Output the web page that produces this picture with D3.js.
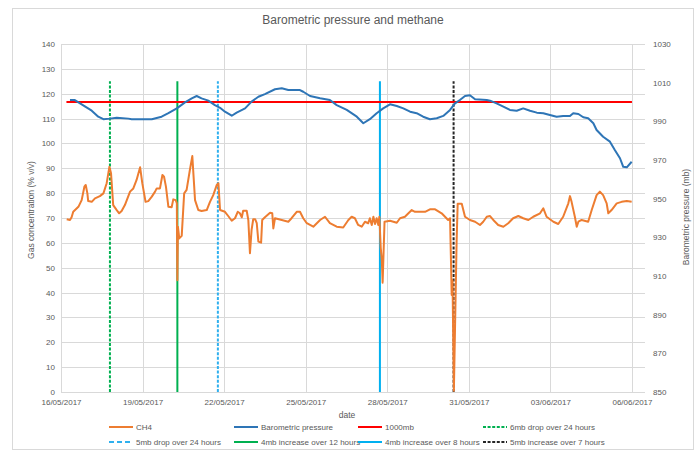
<!DOCTYPE html>
<html><head><meta charset="utf-8">
<script src="https://cdn.jsdelivr.net/npm/d3@7"></script>
<style>
body{margin:0;background:#fff;}
text{font-family:"Liberation Sans",Arial,sans-serif;fill:#595959;}
</style></head>
<body><svg id="chart" width="699" height="450"></svg>
<script>
// ---- data (days since 16/05/2017 00:00) ----
const pressureDay = [0.33,0.51,0.76,1.13,1.37,1.56,1.80,2.05,2.48,2.60,3.34,3.70,3.95,4.26,4.56,4.81,4.99,5.17,5.42,5.66,5.85,6.03,6.28,6.46,6.77,7.01,7.26,7.50,7.87,8.12,8.36,8.79,8.91,9.16,9.53,9.89,10.14,10.51,10.88,11.12,11.36,11.61,11.85,12.10,12.35,12.59,12.84,13.08,13.32,13.57,13.82,14.06,14.31,14.49,14.67,14.86,15.04,15.23,15.66,15.78,16.02,16.27,16.51,16.76,17.00,17.25,17.50,17.74,17.98,18.23,18.47,18.72,18.84,19.03,19.21,19.39,19.58,19.70,19.94,20.19,20.37,20.56,20.68,20.81,20.99];
const pressureMb = [1001.0,1001.0,998.8,995.5,992.4,991.1,991.4,991.9,991.4,991.1,991.1,992.4,994.2,996.7,999.8,1001.9,1003.1,1001.9,1000.7,998.4,997.0,995.0,992.9,994.5,996.7,1000.2,1002.7,1004.1,1006.6,1007.1,1006.2,1006.2,1005.3,1003.1,1001.9,1001.0,998.4,995.9,992.4,989.0,991.1,994.2,996.7,998.8,997.9,996.7,995.0,994.2,992.4,991.1,991.6,992.8,995.9,999.3,1001.0,1003.1,1003.5,1001.4,1001.0,1000.7,999.3,997.6,995.9,995.5,996.7,995.5,994.5,994.2,993.3,992.4,992.8,992.8,994.2,993.8,992.1,991.6,989.0,985.5,982.0,979.5,975.2,970.9,966.5,966.2,969.1];

const ch4Day = [0.21,0.33,0.39,0.45,0.64,0.76,0.86,0.91,0.97,1.00,1.13,1.25,1.43,1.56,1.68,1.78,1.84,1.92,2.05,2.14,2.23,2.35,2.54,2.66,2.78,2.91,2.99,3.11,3.21,3.34,3.46,3.52,3.64,3.73,3.79,3.86,3.95,4.07,4.13,4.22,4.26,4.28,4.30,4.35,4.44,4.53,4.62,4.74,4.83,4.93,5.05,5.17,5.36,5.48,5.60,5.73,5.79,5.85,6.03,6.15,6.28,6.40,6.50,6.58,6.65,6.70,6.83,6.89,6.95,7.01,7.07,7.14,7.20,7.26,7.36,7.40,7.50,7.69,7.77,7.81,7.87,8.12,8.36,8.48,8.67,8.79,8.91,9.04,9.28,9.53,9.71,9.89,10.14,10.38,10.57,10.69,10.81,10.93,11.06,11.18,11.30,11.36,11.43,11.49,11.55,11.61,11.67,11.71,11.76,11.80,11.83,11.90,12.10,12.35,12.47,12.65,12.90,13.02,13.39,13.57,13.76,14.00,14.24,14.31,14.37,14.40,14.45,14.55,14.59,14.74,14.86,15.04,15.23,15.41,15.53,15.66,15.78,15.90,16.08,16.27,16.45,16.63,16.82,17.00,17.19,17.37,17.62,17.74,17.86,18.11,18.29,18.47,18.66,18.72,18.78,18.90,18.97,19.03,19.15,19.39,19.52,19.70,19.82,19.94,20.07,20.13,20.25,20.44,20.62,20.81,20.99];
const ch4Pct = [69.5,69.2,70.3,72.5,74.5,77.2,82.6,83.3,79.9,76.8,76.5,77.9,78.8,79.9,84.0,90.6,88.0,75.2,73.2,71.9,72.8,75.2,80.6,81.9,85.3,90.4,84.0,76.5,76.8,78.6,80.6,81.9,81.9,87.3,86.6,82.6,74.5,74.3,77.5,77.2,76.0,45,66.5,61.8,62.8,79.9,81.3,89.3,94.9,77.2,73.2,72.8,73.2,76.5,79.2,83.3,84.0,73.2,72.5,70.8,68.9,69.9,72.5,71.9,70.3,72.9,72.9,69.2,55.8,65.2,69.5,69.5,67.9,60.5,60.1,69.2,70.3,72.1,71.9,65.8,69.9,69.2,68.5,69.9,72.5,72.5,69.9,67.9,66.5,69.2,70.5,67.9,66.5,66.2,69.2,70.5,69.9,67.2,66.5,68.5,67.9,69.9,67.2,70.5,67.6,69.9,67.2,70.5,58,53,44,68.5,68.9,68.1,69.9,70.5,73.2,72.5,72.5,73.5,73.5,71.9,69.2,69.9,39,45,0.5,60,75.7,75.7,70.5,69.2,68.5,67.2,68.5,70.5,70.8,69.2,67.2,66.5,67.9,69.9,70.8,69.9,69.2,70.5,71.9,73.9,70.5,68.5,67.6,70.5,75.9,78.8,76.5,70.5,66.5,68.5,69.2,68.5,73.2,79.2,80.6,79.2,75.9,71.9,73.2,75.9,76.5,76.8,76.5];

const refLineDay = [0.2, 21.0];
const refLineMb = [1000, 1000];

const eventNames = ["6mb drop over 24 hours","5mb drop over 24 hours","4mb increase over 12 hours","4mb increase over 8 hours","5mb increase over 7 hours"];
const eventDay = [1.80, 5.77, 4.28, 11.73, 14.44];
const eventTop = 125;

const leftTicks = d3.range(0, 141, 10);
const rightTicks = d3.range(850, 1031, 20);
const dateTickDays = [0,3,6,9,12,15,18,21];

// ---- setup ----
const base = new Date(2017,4,16);
const toDate = d => new Date(base.getTime() + d*86400000);
const svg = d3.select("#chart");
const L = 61, R = 645, T = 44, B = 392;
const x = d3.scaleTime().domain([toDate(0), toDate(21.48)]).range([L, R]);
const yL = d3.scaleLinear().domain([0,140]).range([B,T]);
const yR = d3.scaleLinear().domain([850,1030]).range([B,T]);
const fmt = d3.timeFormat("%d/%m/%Y");

// border
svg.append("rect").attr("x",12.5).attr("y",8.5).attr("width",681).attr("height",441)
  .attr("fill","#fff").attr("stroke","#d9d9d9");

// title
svg.append("text").attr("x",353).attr("y",24).attr("text-anchor","middle")
  .style("font-size","12px").text("Barometric pressure and methane");

// gridlines
const grid = svg.append("g");
grid.selectAll(".hg").data(leftTicks).join("line")
  .attr("x1",L).attr("x2",R).attr("y1",d=>Math.round(yL(d))+0.5).attr("y2",d=>Math.round(yL(d))+0.5)
  .attr("stroke","#d9d9d9").attr("stroke-width",1);
grid.selectAll(".vg").data(dateTickDays).join("line")
  .attr("x1",d=>Math.round(x(toDate(d)))+0.5).attr("x2",d=>Math.round(x(toDate(d)))+0.5)
  .attr("y1",T).attr("y2",B).attr("stroke","#d9d9d9").attr("stroke-width",1);

// axes
const axL = svg.append("g").attr("transform",`translate(${L-6},0)`)
  .call(d3.axisLeft(yL).tickValues(leftTicks).tickSize(0).tickPadding(0));
const axR = svg.append("g").attr("transform",`translate(${R+8},0)`)
  .call(d3.axisRight(yR).tickValues(rightTicks).tickFormat(d3.format("d")).tickSize(0).tickPadding(0));
const axB = svg.append("g").attr("transform",`translate(0,${B+6})`)
  .call(d3.axisBottom(x).tickValues(dateTickDays.map(toDate)).tickFormat(fmt).tickSize(0).tickPadding(0));
[axL,axR,axB].forEach(a=>{a.select(".domain").remove();
  a.selectAll("text").style("font-size","8px").style("font-family","'Liberation Sans',Arial,sans-serif").attr("fill","#595959");});
axB.selectAll("text").attr("dy","0.9em");

// axis titles
svg.append("text").attr("transform","translate(34,210) rotate(-90)").attr("text-anchor","middle")
  .style("font-size","8.5px").text("Gas concentration (% v/v)");
svg.append("text").attr("transform","translate(689,217) rotate(-90)").attr("text-anchor","middle")
  .style("font-size","8.5px").text("Barometric pressure (mb)");
svg.append("text").attr("x",347).attr("y",418).attr("text-anchor","middle")
  .style("font-size","8.5px").text("date");

// styles
const styles = {
  "CH4": {c:"#ed7d31", dash:null},
  "Barometric pressure": {c:"#2e75b6", dash:null},
  "1000mb": {c:"#ff0000", dash:null},
  "6mb drop over 24 hours": {c:"#00b050", dash:"3,1.6"},
  "5mb drop over 24 hours": {c:"#2fb0ee", dash:"3,1.6"},
  "4mb increase over 12 hours": {c:"#00b050", dash:null},
  "4mb increase over 8 hours": {c:"#00b0f0", dash:null},
  "5mb increase over 7 hours": {c:"#262626", dash:"3,1.6"}
};

// event lines
eventNames.forEach((n,i)=>{
  const d = [[eventDay[i],0],[eventDay[i],eventTop]];
  svg.append("path").datum(d)
    .attr("d", d3.line().x(p=>x(toDate(p[0]))).y(p=>yL(p[1])))
    .attr("stroke", styles[n].c).attr("stroke-width",2).attr("fill","none")
    .attr("stroke-dasharray", styles[n].dash);
});

// 1000mb
svg.append("path").datum(refLineDay.map((d,i)=>[d,refLineMb[i]]))
  .attr("d", d3.line().x(p=>x(toDate(p[0]))).y(p=>yR(p[1])))
  .attr("stroke","#ff0000").attr("stroke-width",2).attr("fill","none");

// pressure
svg.append("path").datum(pressureDay.map((d,i)=>[d,pressureMb[i]]))
  .attr("d", d3.line().x(p=>x(toDate(p[0]))).y(p=>yR(p[1])))
  .attr("stroke","#2e75b6").attr("stroke-width",2).attr("fill","none").attr("stroke-linejoin","round");

// CH4
svg.append("path").datum(ch4Day.map((d,i)=>[d,ch4Pct[i]]))
  .attr("d", d3.line().x(p=>x(toDate(p[0]))).y(p=>yL(p[1])))
  .attr("stroke","#ed7d31").attr("stroke-width",2).attr("fill","none").attr("stroke-linejoin","round");

// legend
const legendItems = ["CH4","Barometric pressure","1000mb","6mb drop over 24 hours",
  "5mb drop over 24 hours","4mb increase over 12 hours","4mb increase over 8 hours","5mb increase over 7 hours"];
const colX = [109, 234, 358, 483];
const rowY = [427, 442];
legendItems.forEach((n,i)=>{
  const gx = colX[i%4], gy = rowY[Math.floor(i/4)];
  svg.append("line").attr("x1",gx).attr("x2",gx+24).attr("y1",gy).attr("y2",gy)
    .attr("stroke",styles[n].c).attr("stroke-width",2)
    .attr("stroke-dasharray", n==="5mb drop over 24 hours" ? "5,3" : styles[n].dash);
  svg.append("text").attr("x",gx+27).attr("y",gy).attr("dy","0.35em")
    .style("font-size","8px").text(n);
});
</script></body></html>
